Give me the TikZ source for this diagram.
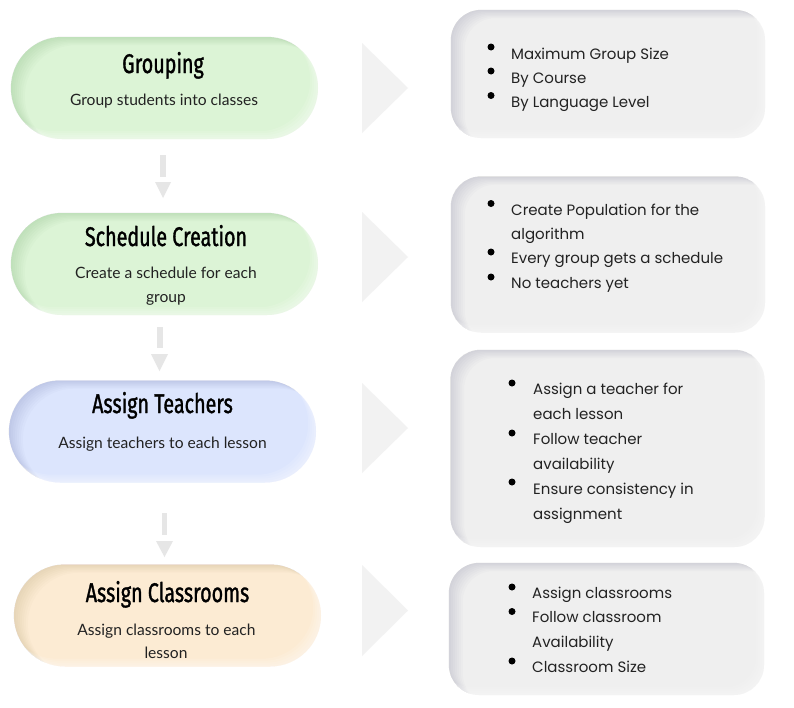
\documentclass[tikz,border=0pt]{standalone}
\usepackage{fontspec}
\setmainfont{Lato}
\newfontfamily\headfont[FakeStretch=0.73,FakeBold=1.2]{Fira Sans}
\newfontfamily\listfont{Poppins}
\usetikzlibrary{calc}
\definecolor{greenB}{HTML}{DCF4D6}
\definecolor{blueB}{HTML}{DCE5FD}
\definecolor{peachB}{HTML}{FCEBD3}
\definecolor{boxB}{HTML}{EFEFEF}
\definecolor{arrowgray}{HTML}{E6E6E6}
\definecolor{chevgray}{HTML}{F2F2F2}
\definecolor{txt}{HTML}{222222}
\tikzset{
  pill/.style={minimum width=307pt, minimum height=102pt, rounded corners=51pt, inner sep=0pt, draw=none},
  greenpill/.style={pill, fill=greenB},
  bluepill/.style={pill, fill=blueB},
  peachpill/.style={pill, fill=peachB},
  infobox/.style={rounded corners=30pt, inner sep=0pt, draw=none, fill=boxB},
  titletxt/.style={anchor=base, inner sep=0pt, font=\headfont\fontsize{27}{30}\selectfont, text=black},
  subtxt/.style={anchor=base, inner sep=0pt, font=\fontsize{15.6}{18}\selectfont, text=txt},
  listtxt/.style={anchor=base west, inner sep=0pt, font=\listfont\fontsize{15}{18}\selectfont, text=txt},
  bulletdot/.style={circle, fill=black, inner sep=0pt, minimum size=7pt},
  downarrow/.style={fill=arrowgray, draw=none},
  chevron/.style={fill=chevgray, draw=none}
}
% soft inner edge: darker at top/left, lighter at bottom/right
\newcommand\softedge[3]{%
  \begin{scope}
    \clip[rounded corners=#2] (#1.north west) rectangle (#1.south east);
    \foreach \s in {2,4,6,8,10,12,14} {
      \fill[#3, opacity=0.016, even odd rule]
        ($(#1.north west)+(-50,-50)$) rectangle ($(#1.south east)+(50,50)$)
        [rounded corners=#2]
        ($(#1.north west)+(\s,0.6*\s)$) rectangle ($(#1.south east)+(\s,0.6*\s)$);
    }
    \foreach \s in {2,4,6,8} {
      \fill[white, opacity=0.12, even odd rule]
        ($(#1.north west)+(-50,-50)$) rectangle ($(#1.south east)+(50,50)$)
        [rounded corners=#2]
        ($(#1.north west)+(-\s,-\s)$) rectangle ($(#1.south east)+(-\s,-\s)$);
    }
  \end{scope}}
\begin{document}
\begin{tikzpicture}[x=1pt,y=-1pt]
\useasboundingbox (0,0) rectangle (794,707);
\fill[white] (0,0) rectangle (794,707);

% ---------- left pills ----------
\node[greenpill] (p1) at (164.5,88) {};
\softedge{p1}{51pt}{black!60!green}
\node[titletxt] (t1) at (163,73) {Grouping};
\node[subtxt] (s1) at (164,105) {Group students into classes};

\node[greenpill] (p2) at (164.5,264) {};
\softedge{p2}{51pt}{black!60!green}
\node[titletxt] (t2) at (166,246) {Schedule Creation};
\node[subtxt] (s2a) at (166,278) {Create a schedule for each};
\node[subtxt] (s2b) at (166,302) {group};

\node[bluepill] (p3) at (162.5,431.5) {};
\softedge{p3}{51pt}{black!60!blue}
\node[titletxt] (t3) at (162.5,413) {Assign Teachers};
\node[subtxt] (s3) at (162.5,448) {Assign teachers to each lesson};

\node[peachpill] (p4) at (167.5,615.5) {};
\softedge{p4}{51pt}{black!60!orange}
\node[titletxt] (t4) at (167.5,602) {Assign Classrooms};
\node[subtxt] (s4a) at (166.5,635) {Assign classrooms to each};
\node[subtxt] (s4b) at (166,658) {lesson};

% ---------- down arrows ----------
\fill[downarrow] (160,155) rectangle (166,177);
\fill[downarrow] (155,182) -- (171,182) -- (163,198) -- cycle;
\fill[downarrow] (157,327) rectangle (163,348);
\fill[downarrow] (151,354) -- (168,354) -- (159.5,371) -- cycle;
\fill[downarrow] (162,513) rectangle (167,535);
\fill[downarrow] (156,541) -- (173,541) -- (164.5,557) -- cycle;

% ---------- chevrons ----------
\fill[chevron] (362,43) -- (408,88) -- (362,133) -- cycle;
\fill[chevron] (362,212) -- (408,257) -- (362,302) -- cycle;
\fill[chevron] (362,383) -- (408,428) -- (362,473) -- cycle;
\fill[chevron] (362,565) -- (408,610.5) -- (362,656) -- cycle;

% ---------- right boxes ----------
\node[infobox, minimum width=314pt, minimum height=128pt] (b1) at (608,74) {};
\softedge{b1}{30pt}{black!80!blue}
\node[infobox, minimum width=314pt, minimum height=156pt] (b2) at (608,254.5) {};
\softedge{b2}{30pt}{black!80!blue}
\node[infobox, minimum width=314pt, minimum height=197pt] (b3) at (607.5,448.5) {};
\softedge{b3}{30pt}{black!80!blue}
\node[infobox, minimum width=315pt, minimum height=132pt] (b4) at (606.5,629) {};
\softedge{b4}{30pt}{black!80!blue}

% box 1
\node[bulletdot] (d11) at (491,47) {};
\node[bulletdot] (d12) at (491,71) {};
\node[bulletdot] (d13) at (491,95.5) {};
\node[listtxt] (l11) at (511,59) {Maximum Group Size};
\node[listtxt] (l12) at (511,83) {By Course};
\node[listtxt] (l13) at (511,107) {By Language Level};

% box 2
\node[bulletdot] (d21) at (491,203.5) {};
\node[bulletdot] (d23) at (491,252) {};
\node[bulletdot] (d24) at (491,277) {};
\node[listtxt] (l21) at (511,215) {Create Population for the};
\node[listtxt] (l22) at (511,239) {algorithm};
\node[listtxt] (l23) at (511,263) {Every group gets a schedule};
\node[listtxt] (l24) at (511,288) {No teachers yet};

% box 3
\node[bulletdot] (d31) at (512,383) {};
\node[bulletdot] (d33) at (512,433) {};
\node[bulletdot] (d35) at (512,482) {};
\node[listtxt] (l31) at (533,394) {Assign a teacher for};
\node[listtxt] (l32) at (533,419) {each lesson};
\node[listtxt] (l33) at (533,444) {Follow teacher};
\node[listtxt] (l34) at (533,469) {availability};
\node[listtxt] (l35) at (533,494) {Ensure consistency in};
\node[listtxt] (l36) at (533,519) {assignment};

% box 4
\node[bulletdot] (d41) at (512,587) {};
\node[bulletdot] (d42) at (512,611.5) {};
\node[bulletdot] (d44) at (512,661) {};
\node[listtxt] (l41) at (532,598) {Assign classrooms};
\node[listtxt] (l42) at (532,622) {Follow classroom};
\node[listtxt] (l43) at (532,647) {Availability};
\node[listtxt] (l44) at (532,672) {Classroom Size};
\end{tikzpicture}
\end{document}
